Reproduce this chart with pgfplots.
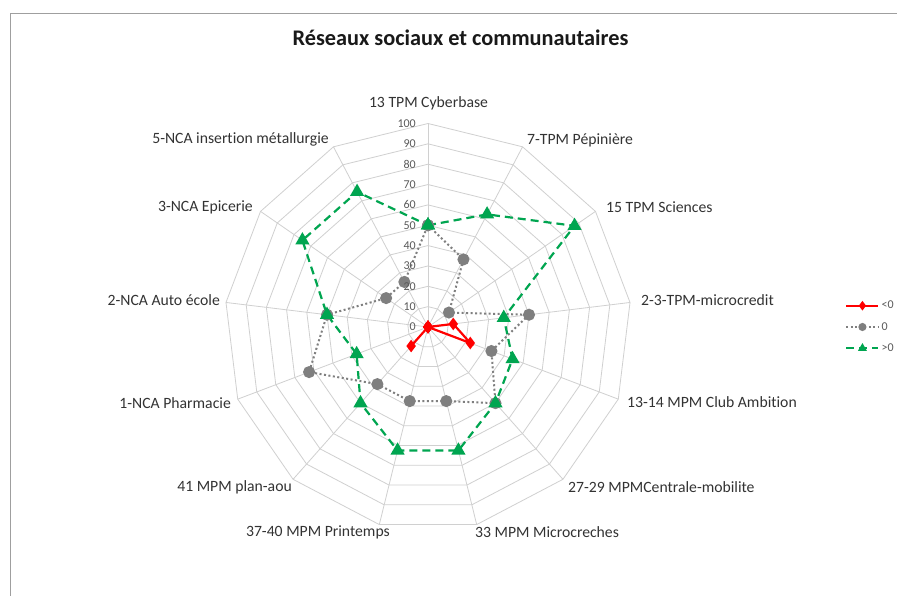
\documentclass[border=0pt]{standalone}
\usepackage{pgfplots}
\pgfplotsset{compat=1.18}
\usepackage{fontspec}
\setmainfont{Carlito}[Ligatures=NoCommon]
\definecolor{cred}{HTML}{FF0000}
\definecolor{cgray}{HTML}{7F7F7F}
\definecolor{cgreen}{HTML}{00A550}
\definecolor{gridc}{HTML}{D0D0D0}
\definecolor{labc}{HTML}{333333}
\definecolor{tickc}{HTML}{595959}
\begin{document}
\begin{tikzpicture}[x=1pt,y=1pt]
\fill[white] (0,0) rectangle (897,596);
\begin{axis}[
  at={(428pt,269pt)}, anchor=origin,
  x=2.035pt, y=2.035pt,
  xmin=-110, xmax=110, ymin=-110, ymax=110,
  hide axis, clip=false,
  legend style={at={(axis cs:203.5,0)}, anchor=west, draw=none, fill=none,
    font=\fontsize{12}{13}\selectfont, text=tickc, row sep=8pt},
  legend cell align=left,
  legend image code/.code={\draw[mark repeat=2,mark phase=2,#1,mark size=3pt] plot coordinates {(0pt,0pt) (16pt,0pt) (32pt,0pt)};},
]
% polygon grid
\pgfplotsinvokeforeach{10,20,...,100}{
  \addplot[gridc, line width=0.8pt, domain=0:13, samples=14, forget plot]
    ({#1*cos(90-x*360/13)}, {#1*sin(90-x*360/13)});
}
\pgfplotsinvokeforeach{0,...,12}{
  \draw[gridc, line width=0.8pt] (axis cs:0,0) -- (axis cs:{100*cos(90-#1*360/13)},{100*sin(90-#1*360/13)});
}
% <0
\addplot[cred, line width=2.2pt, mark=diamond*, mark size=4.5pt, data cs=polar] coordinates {
 (90,0) (62.3077,0) (34.6154,0) (6.9231,12.5) (-20.7692,22.22) (-48.4615,0) (-76.1538,0)
 (-103.8462,0) (-131.5385,12.5) (-159.2308,0) (-186.9231,0) (-214.6154,0) (-242.3077,0) (-270,0)};
% 0
\addplot[cgray, line width=2pt, dash pattern=on 2pt off 2.5pt, mark=*, mark size=5pt, mark options={solid}, data cs=polar] coordinates {
 (90,50) (62.3077,37.5) (34.6154,12.5) (6.9231,50) (-20.7692,33.33) (-48.4615,50) (-76.1538,37.5)
 (-103.8462,37.5) (-131.5385,37.5) (-159.2308,62.5) (-186.9231,50) (-214.6154,25) (-242.3077,25) (-270,50)};
% >0
\addplot[cgreen, line width=2.2pt, dash pattern=on 8pt off 5pt, mark=triangle*, mark size=6pt, mark options={solid}, data cs=polar] coordinates {
 (90,50) (62.3077,62.5) (34.6154,87.5) (6.9231,37.5) (-20.7692,44.44) (-48.4615,50) (-76.1538,62.5)
 (-103.8462,62.5) (-131.5385,50) (-159.2308,37.5) (-186.9231,50) (-214.6154,75) (-242.3077,75) (-270,50)};
\legend{{<0},{0},{>0}}
\end{axis}
% tick labels
\foreach \v in {0,10,...,100}{
  \node[anchor=east, inner sep=0, font=\fontsize{12}{13}\selectfont, text=tickc] at (416, {269+2.035*\v}) {\v};
}
% category labels (pixel coords, y flipped)
\begin{scope}[every node/.style={inner sep=0, font=\fontsize{15.7}{18}\selectfont, text=labc}]
\node[anchor=center] at (428.5, 493) {13 TPM Cyberbase};
\node[anchor=west] at (527, 456) {7-TPM Pépinière};
\node[anchor=west] at (606, 389) {15 TPM Sciences};
\node[anchor=west] at (641, 296) {2-3-TPM-microcredit};
\node[anchor=west] at (627, 194) {13-14 MPM Club Ambition};
\node[anchor=west] at (568, 109) {27-29 MPMCentrale-mobilite};
\node[anchor=west] at (475, 64) {33 MPM Microcreches};
\node[anchor=east] at (390, 64) {37-40 MPM Printemps};
\node[anchor=east] at (292, 109) {41 MPM plan-aou};
\node[anchor=east] at (231, 193) {1-NCA Pharmacie};
\node[anchor=east] at (220, 296) {2-NCA Auto école};
\node[anchor=east] at (253, 389) {3-NCA Epicerie};
\node[anchor=east] at (329, 457) {5-NCA insertion métallurgie};
\end{scope}
\node[anchor=center, inner sep=0, font=\bfseries\fontsize{22.3}{26}\selectfont, text=black!90] at (460.5, 558) {Réseaux sociaux et communautaires};
% frame
\draw[gray!75, line width=1.5pt] (10.7,-50) -- (10.7,582.7) -- (1000,582.7);
\pgfresetboundingbox
\useasboundingbox (0,0) rectangle (897,596);
\end{tikzpicture}
\end{document}
